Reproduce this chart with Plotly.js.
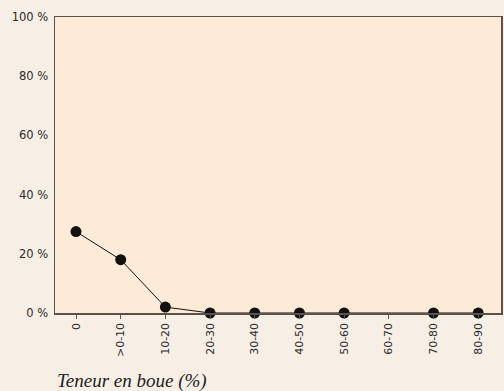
<!DOCTYPE html>
<html><head><meta charset="utf-8">
<script src="https://cdn.plot.ly/plotly-3.0.1.min.js"></script>
<style>html,body{margin:0;padding:0;background:#f7efe6;}</style>
</head><body>
<div id="chart" style="width:504px;height:391px;"></div>
<script>
const categories = ["0", ">0-10", "10-20", "20-30", "30-40", "40-50", "50-60", "60-70", "70-80", "80-90"];
const values = [27.5, 18, 2, 0, 0, 0, 0, null, 0, 0];
const yTicks = [0, 20, 40, 60, 80, 100];
const xTitle = "Teneur en boue (%)";

Plotly.newPlot("chart", [{
  type: "scatter", mode: "lines+markers",
  x: categories, y: values, connectgaps: true,
  line: {color: "#111", width: 1},
  marker: {color: "#111", size: 11},
  cliponaxis: false, hoverinfo: "skip"
}], {
  width: 504, height: 391,
  margin: {l: 55, r: 3, t: 17, b: 78},
  paper_bgcolor: "#f7efe6", plot_bgcolor: "#fdebd7",
  font: {family: "DejaVu Sans", size: 11, color: "#2a2a2a"},
  showlegend: false,
  xaxis: {
    type: "category", range: [-0.47, 9.51],
    tickangle: -90, ticks: "outside", ticklen: 4, tickcolor: "#555", tickwidth: 1,
    showline: true, linecolor: "#5a5248", linewidth: 1.5, mirror: true,
    showgrid: false, zeroline: false, fixedrange: true,
    tickfont: {family: "DejaVu Sans", size: 11, color: "#2a2a2a"}
  },
  yaxis: {
    range: [0, 100], tickvals: yTicks, ticktext: yTicks.map(v => v + " %"),
    ticks: "", showline: true, linecolor: "#5a5248", linewidth: 1.5, mirror: true,
    showgrid: false, zeroline: false, fixedrange: true, ticklabelstandoff: 3,
    tickfont: {family: "DejaVu Sans", size: 11.5, color: "#2a2a2a"}
  },
  annotations: [{
    text: xTitle, xref: "paper", yref: "paper", x: 0.0, y: -0.187,
    xanchor: "left", yanchor: "top", showarrow: false,
    font: {family: "Liberation Serif", size: 19, color: "#222", style: "italic"}
  }]
}, {displayModeBar: false, staticPlot: true});
</script>
</body></html>
